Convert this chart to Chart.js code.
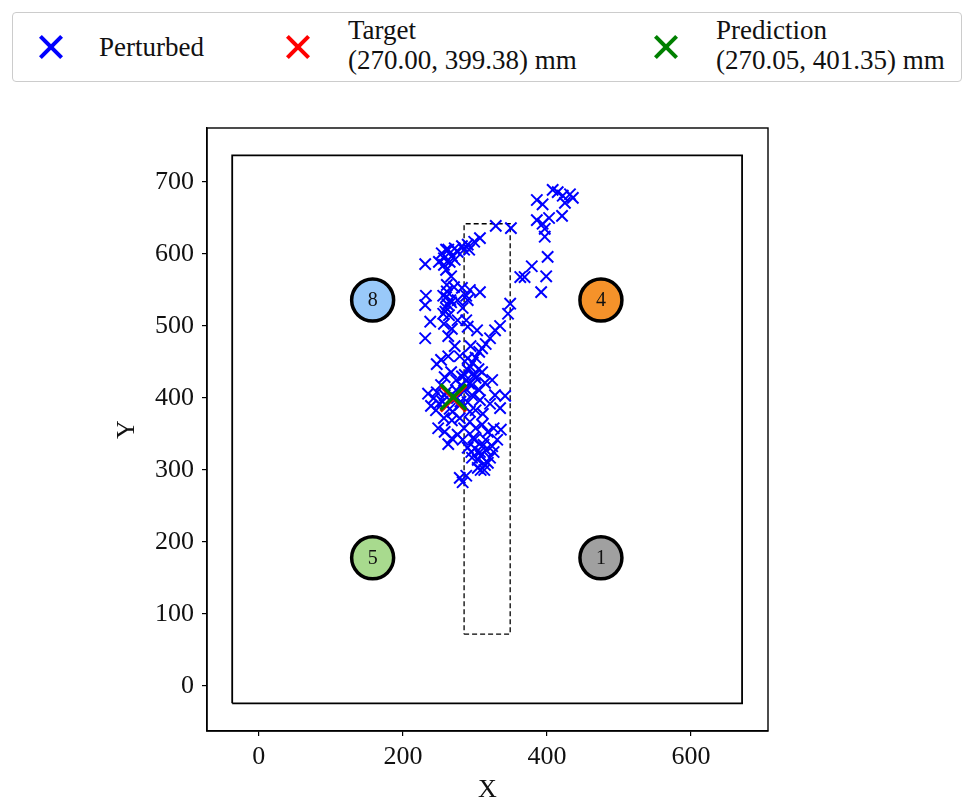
<!DOCTYPE html>
<html lang="en">
<head>
    <meta charset="UTF-8">
    <title>Perturbed predictions</title>
    <style>
        body {
            margin: 0;
            padding: 0;
            background: #fff;
            font-family: "Liberation Serif", serif;
        }

        #wrap {
            position: relative;
            width: 963px;
            height: 803px;
        }

        #chart {
            position: absolute;
            left: 0;
            top: 0;
        }

        #legend {
            position: absolute;
            left: 12px;
            top: 12px;
            width: 948px;
            height: 68px;
            border: 1px solid #cccccc;
            border-radius: 4px;
            background: #fff;
            z-index: 2;
        }

        .mark {
            position: absolute;
            width: 24px;
            height: 24px;
        }

        .mark::before, .mark::after {
            content: "";
            position: absolute;
            left: -3px;
            top: 10px;
            width: 30px;
            height: 4px;
            background: currentColor;
        }

        .mark::before { transform: rotate(45deg); }
        .mark::after { transform: rotate(-45deg); }

        .label {
            position: absolute;
            font-size: 27px;
            line-height: 30px;
            color: #111;
            white-space: nowrap;
        }
    </style>
</head>
<body>
    <div id="wrap">
        <div id="legend">
            <div class="mark" style="left: 26px; top: 22px; color: #0000ff;"></div>
            <div class="label" style="left: 86px; top: 19px;">Perturbed</div>
            <div class="mark" style="left: 273px; top: 22px; color: #ff0000;"></div>
            <div class="label" style="left: 335px; top: 2px;">Target<br>(270.00, 399.38) mm</div>
            <div class="mark" style="left: 641px; top: 22px; color: #008000;"></div>
            <div class="label" style="left: 703px; top: 2px;">Prediction<br>(270.05, 401.35) mm</div>
        </div>
        <canvas id="chart" width="963" height="803"></canvas>
    </div>

    <script src="https://cdn.jsdelivr.net/npm/chart.js"></script>
    <script>
        // perturbed predictions (mm)
        const perturbedX = [386,394,408,415,422,432,436,425,421,403,
            386,394,397,397,401,399,392,379,369,363,
            329,350,349,346,335,328,321,315,310,306,
            301,297,290,293,286,231,254,263,272,282,
            290,307,257,265,260,267,261,271,282,288,
            276,267,260,256,232,231,238,231,256,257,
            263,268,276,283,290,293,307,288,272,263,
            247,253,279,294,290,303,235,243,239,246,
            253,258,267,274,281,288,296,301,306,314,
            324,328,342,335,321,311,301,290,279,269,
            257,249,258,268,263,276,285,293,301,310,
            318,326,336,331,324,315,307,304,314,321,
            326,313,304,296,290,283,279,283,288,268,
            279,299,315,307,296,310,274,258,247,293,
            260,268,276,285,250,257,272,292,299,
            260,262,259,264,261,266,
            255,262,275,280,285,265,250,292,300,305,282,290,
            300,308,312,298,318,308,295];
        const perturbedY = [675,669,689,686,681,683,678,671,653,650,
            647,642,635,624,596,569,547,583,568,568,
            639,636,531,517,500,494,483,475,469,464,
            456,449,439,444,432,586,601,606,608,611,
            613,622,594,589,578,569,557,554,553,542,
            536,533,525,542,542,529,506,483,517,503,
            486,496,508,525,536,550,547,508,472,458,
            447,453,458,472,499,494,406,400,389,383,
            418,429,436,425,417,425,418,428,411,421,
            425,404,403,386,392,378,383,394,390,381,
            372,358,353,344,336,349,358,367,358,363,
            353,358,356,342,333,328,325,314,307,317,
            325,300,303,317,331,342,289,283,292,369,
            372,342,342,397,404,436,411,404,408,381,
            606,597,603,606,589,585,592,606,617,
            540,530,520,515,548,536,
            395,410,400,395,410,385,392,420,432,440,430,455,
            330,320,335,345,310,300,325];

        const target = [270.00, 399.38];
        const prediction = [270.05, 401.35];

        // workspace outline and the dashed region
        const outerX = [-37, 671, 671, -37, -37];
        const outerY = [-24, -24, 737, 737, -24];
        const dashX = [285, 349, 349, 285, 285];
        const dashY = [72, 72, 642, 642, 72];

        // numbered stations
        const stationLabels = ['8', '4', '5', '1'];
        const stationX = [158, 475, 158, 475];
        const stationY = [536, 536, 178, 178];
        const stationColors = ['#99c9f9', '#f5922a', '#a8da8e', '#a0a0a0'];

        const xTicks = [0, 200, 400, 600];
        const yTicks = [0, 100, 200, 300, 400, 500, 600, 700];

        const toPoints = (xs, ys) => xs.map((x, i) => ({ x: x, y: ys[i] }));

        const serif = '"Liberation Serif", serif';

        const framePlugin = {
            id: 'frame',
            afterDatasetsDraw(chart) {
                const { ctx, chartArea, scales } = chart;
                ctx.save();
                // station numbers
                ctx.fillStyle = '#111';
                ctx.font = '20px ' + serif;
                ctx.textAlign = 'center';
                ctx.textBaseline = 'middle';
                stationLabels.forEach((t, i) => {
                    ctx.fillText(t, scales.x.getPixelForValue(stationX[i]), scales.y.getPixelForValue(stationY[i]) + 1);
                });
                // full box around the axes
                ctx.strokeStyle = '#000';
                ctx.lineWidth = 1.4;
                ctx.strokeRect(chartArea.left, chartArea.top, chartArea.right - chartArea.left, chartArea.bottom - chartArea.top);
                ctx.restore();
            }
        };

        new Chart(document.getElementById('chart'), {
            type: 'scatter',
            data: {
                datasets: [
                    {
                        label: 'Prediction',
                        data: [{ x: prediction[0], y: prediction[1] }],
                        pointStyle: 'crossRot',
                        radius: 18,
                        borderWidth: 3.5,
                        borderColor: '#008000',
                        order: 0
                    },
                    {
                        label: 'Target',
                        data: [{ x: target[0], y: target[1] }],
                        pointStyle: 'crossRot',
                        radius: 18,
                        borderWidth: 3.5,
                        borderColor: '#ff0000',
                        order: 1
                    },
                    {
                        label: 'Perturbed',
                        data: toPoints(perturbedX, perturbedY),
                        pointStyle: 'crossRot',
                        radius: 8,
                        borderWidth: 2,
                        borderColor: '#0000ff',
                        order: 2
                    },
                    {
                        label: 'Stations',
                        data: toPoints(stationX, stationY),
                        pointStyle: 'circle',
                        radius: 21,
                        borderWidth: 3.5,
                        borderColor: '#000',
                        backgroundColor: stationColors,
                        order: 3
                    },
                    {
                        label: 'Region',
                        data: toPoints(dashX, dashY),
                        showLine: true,
                        radius: 0,
                        borderWidth: 1.3,
                        borderDash: [5, 3],
                        borderColor: '#000',
                        order: 4
                    },
                    {
                        label: 'Workspace',
                        data: toPoints(outerX, outerY),
                        showLine: true,
                        radius: 0,
                        borderWidth: 1.8,
                        borderColor: '#000',
                        order: 5
                    }
                ]
            },
            options: {
                responsive: false,
                animation: false,
                events: [],
                layout: {
                    padding: { left: 0, right: 195, top: 128, bottom: 0 }
                },
                plugins: {
                    legend: { display: false },
                    tooltip: { enabled: false }
                },
                scales: {
                    x: {
                        type: 'linear',
                        min: -72,
                        max: 707,
                        afterBuildTicks: (scale) => {
                            scale.ticks = xTicks.map(v => ({ value: v }));
                        },
                        afterFit: (scale) => { scale.height = 72; },
                        grid: {
                            display: true,
                            drawOnChartArea: false,
                            drawTicks: true,
                            tickLength: 5,
                            color: '#000',
                            lineWidth: 1.2
                        },
                        border: { display: true, color: '#000', width: 1.4 },
                        ticks: {
                            color: '#111',
                            padding: 6,
                            maxRotation: 0,
                            font: { family: serif, size: 26 }
                        },
                        title: {
                            display: true,
                            text: 'X',
                            color: '#111',
                            padding: { top: 0, bottom: 0 },
                            font: { family: serif, size: 26, lineHeight: 1 }
                        }
                    },
                    y: {
                        type: 'linear',
                        min: -62.5,
                        max: 775,
                        afterBuildTicks: (scale) => {
                            scale.ticks = yTicks.map(v => ({ value: v }));
                        },
                        afterFit: (scale) => { scale.width = 207; },
                        grid: {
                            display: true,
                            drawOnChartArea: false,
                            drawTicks: true,
                            tickLength: 5,
                            color: '#000',
                            lineWidth: 1.2
                        },
                        border: { display: true, color: '#000', width: 1.4 },
                        ticks: {
                            color: '#111',
                            padding: 8,
                            font: { family: serif, size: 26 }
                        },
                        title: {
                            display: true,
                            text: 'Y',
                            color: '#111',
                            padding: { top: 114, bottom: 0 },
                            font: { family: serif, size: 26, lineHeight: 1 }
                        }
                    }
                }
            },
            plugins: [framePlugin]
        });
    </script>
</body>
</html>
